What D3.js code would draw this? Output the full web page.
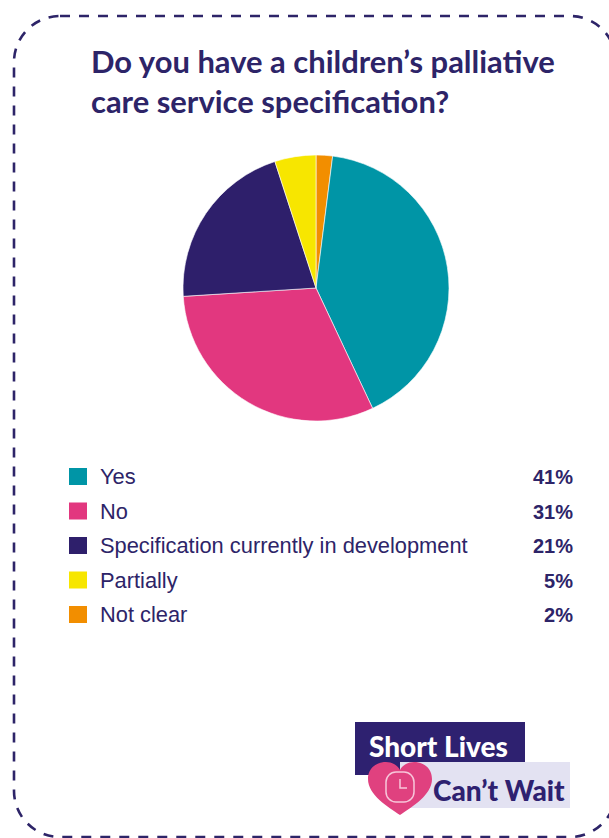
<!DOCTYPE html>
<meta charset="utf-8">
<style>
  body { margin: 0; background: #fff; }
</style>
<div id="container"></div>
<script src="https://cdn.jsdelivr.net/npm/d3@7"></script>
<script>
const PURPLE = '#2d2468';

// data, in the order the pie is drawn (clockwise from 12 o'clock)
const categories = ['Not clear', 'Yes', 'No', 'Specification currently in development', 'Partially'];
const values = [2, 41, 31, 21, 5];
const colors = ['#f28e00', '#0095a6', '#e2377f', '#2e1f6b', '#f7e600'];
// legend order
const legendOrder = ['Yes', 'No', 'Specification currently in development', 'Partially', 'Not clear'];
const titleLines = ['Do you have a children\u2019s palliative', 'care service specification?'];

const width = 609, height = 838;

const svg = d3.create('svg').attr('width', width).attr('height', height);

// dashed rounded frame
svg.append('rect')
  .attr('x', 14).attr('y', 16).attr('width', 602).attr('height', 821)
  .attr('rx', 46).attr('ry', 46)
  .attr('fill', 'none').attr('stroke', PURPLE)
  .attr('stroke-width', 2.6).attr('stroke-dasharray', '10 9');

// title
const title = svg.append('g').attr('font-family', 'Lato, sans-serif').attr('font-weight', 700).attr('fill', PURPLE);
titleLines.forEach((t, i) => {
  title.append('text').attr('x', 91).attr('y', 73 + i * 40).attr('font-size', 29).text(t);
});
const t0 = title.select('text').node();

// pie
const color = d3.scaleOrdinal().domain(categories).range(colors);
const pie = d3.pie().sort(null).value(d => d.value);
const arc = d3.arc().innerRadius(0).outerRadius(133);
const pieData = pie(categories.map((c, i) => ({ name: c, value: values[i] })));

svg.append('g').attr('transform', 'translate(316,288)')
  .selectAll('path').data(pieData).join('path')
  .attr('d', arc)
  .attr('fill', d => color(d.data.name))
  .attr('stroke', '#fff').attr('stroke-width', 0.6);

// legend
const y = d3.scalePoint().domain(legendOrder).range([477, 615]);
const lg = svg.append('g').attr('font-family', '"Liberation Sans", Arial, sans-serif').attr('fill', PURPLE);
const rows = lg.selectAll('g').data(legendOrder).join('g')
  .attr('transform', d => `translate(0,${y(d)})`);
rows.append('rect').attr('x', 69).attr('y', -9).attr('width', 18).attr('height', 17)
  .attr('fill', d => color(d));
rows.append('text').attr('class', 'lbl').attr('x', 100).attr('y', 7).attr('font-size', 19).text(d => d);
rows.append('text').attr('x', 573).attr('y', 7).attr('font-size', 20).attr('font-weight', 700)
  .attr('text-anchor', 'end').text(d => values[categories.indexOf(d)] + '%');

// logo
const logo = svg.append('g');
logo.append('rect').attr('x', 355).attr('y', 722).attr('width', 170).attr('height', 53).attr('fill', '#2e2170');
logo.append('rect').attr('x', 400).attr('y', 762).attr('width', 170).attr('height', 46).attr('fill', '#e3e2f2');
logo.append('text').attr('x', 369).attr('y', 757).attr('font-family', 'Lato, sans-serif').attr('font-weight', 900)
  .attr('font-size', 28).attr('fill', '#fff').text('Short Lives');
logo.append('text').attr('x', 433).attr('y', 801).attr('font-family', 'Lato, sans-serif').attr('font-weight', 900)
  .attr('font-size', 28).attr('fill', '#2e2170').text('Can\u2019t Wait');
// heart with clock
const heart = logo.append('g').attr('transform', 'translate(400,787)');
heart.append('path')
  .attr('d', 'M0,28 C-12,20 -32,8 -32,-8 C-32,-20 -22,-25 -14,-25 C-7,-25 -2,-21 0,-17 C2,-21 7,-25 14,-25 C22,-25 32,-20 32,-8 C32,8 12,20 0,28 Z')
  .attr('fill', '#e0417f');
heart.append('rect').attr('x', -14).attr('y', -15).attr('width', 28).attr('height', 30).attr('rx', 10)
  .attr('fill', 'none').attr('stroke', '#f7c6da').attr('stroke-width', 1.5);
heart.append('path').attr('d', 'M0,-8 L0,1 L7,1').attr('fill', 'none').attr('stroke', '#f7c6da').attr('stroke-width', 1.5);

document.getElementById('container').append(svg.node());

// scale title and legend texts to the widths
const w0 = t0.getComputedTextLength();
title.selectAll('text').attr('font-size', 29 * 464 / w0);
const specNode = rows.filter(d => d.startsWith('Spec')).select('text.lbl').node();
const ws = specNode.getComputedTextLength();
rows.select('text.lbl').attr('font-size', 19 * 368 / ws);
</script>
